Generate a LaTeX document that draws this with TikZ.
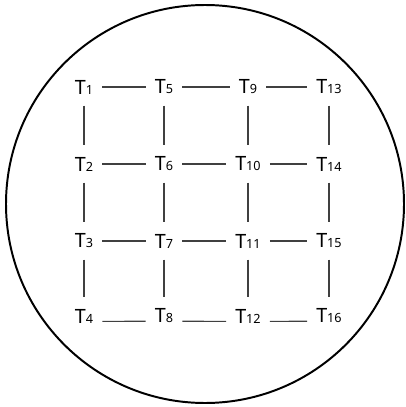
\documentclass[tikz,border=0pt]{standalone}
\usepackage{fontspec}
\setmainfont{Noto Sans}
\usepackage{tikz}
\usetikzlibrary{positioning}

\newcommand{\tsub}[1]{{\fontsize{9}{9}\selectfont #1}}

\begin{document}
\begin{tikzpicture}[x=0.025cm, y=-0.025cm,
    tnode/.style={inner xsep=6.4pt, inner ysep=8pt, font=\fontsize{14}{14}\selectfont},
    link/.style={line width=0.8pt, black!75}]
    \useasboundingbox (0,0) rectangle (406,407);

    % Outer circle
    \draw[line width=1.4pt] (205,204) circle (199);

    % Column 1
    \node[tnode] (t1) at (84,87) {T\tsub{1}};
    \node[tnode] (t2) at (84,164) {T\tsub{2}};
    \node[tnode] (t3) at (84,241) {T\tsub{3}};
    \node[tnode] (t4) at (84,316) {T\tsub{4}};

    % Column 2
    \node[tnode] (t5) at (164,87) {T\tsub{5}};
    \node[tnode] (t6) at (164,164) {T\tsub{6}};
    \node[tnode] (t7) at (164,241) {T\tsub{7}};
    \node[tnode] (t8) at (164,316) {T\tsub{8}};

    % Column 3
    \node[tnode] (t9) at (248,87) {T\tsub{9}};
    \node[tnode] (t10) at (248,164) {T\tsub{10}};
    \node[tnode] (t11) at (248,241) {T\tsub{11}};
    \node[tnode] (t12) at (248,316) {T\tsub{12}};

    % Column 4
    \node[tnode] (t13) at (329,87) {T\tsub{13}};
    \node[tnode] (t14) at (329,164) {T\tsub{14}};
    \node[tnode] (t15) at (329,241) {T\tsub{15}};
    \node[tnode] (t16) at (329,316) {T\tsub{16}};

    % Horizontal links (bottom row sits near the baseline)
    \draw[link] (t1) -- (t5);
    \draw[link] (t5) -- (t9);
    \draw[link] (t9) -- (t13);
    \draw[link] (t2) -- (t6);
    \draw[link] (t6) -- (t10);
    \draw[link] (t10) -- (t14);
    \draw[link] (t3) -- (t7);
    \draw[link] (t7) -- (t11);
    \draw[link] (t11) -- (t15);
    \draw[link] ([yshift=1.2pt]t4.base east) -- ([yshift=1.2pt]t8.base west);
    \draw[link] ([yshift=1.2pt]t8.base east) -- ([yshift=1.2pt]t12.base west);
    \draw[link] ([yshift=1.2pt]t12.base east) -- ([yshift=1.2pt]t16.base west);

    % Vertical links
    \draw[link] (t1) -- (t2);
    \draw[link] (t2) -- (t3);
    \draw[link] (t3) -- (t4);
    \draw[link] (t5) -- (t6);
    \draw[link] (t6) -- (t7);
    \draw[link] (t7) -- (t8);
    \draw[link] (t9) -- (t10);
    \draw[link] (t10) -- (t11);
    \draw[link] (t11) -- (t12);
    \draw[link] (t13) -- (t14);
    \draw[link] (t14) -- (t15);
    \draw[link] (t15) -- (t16);
\end{tikzpicture}
\end{document}
